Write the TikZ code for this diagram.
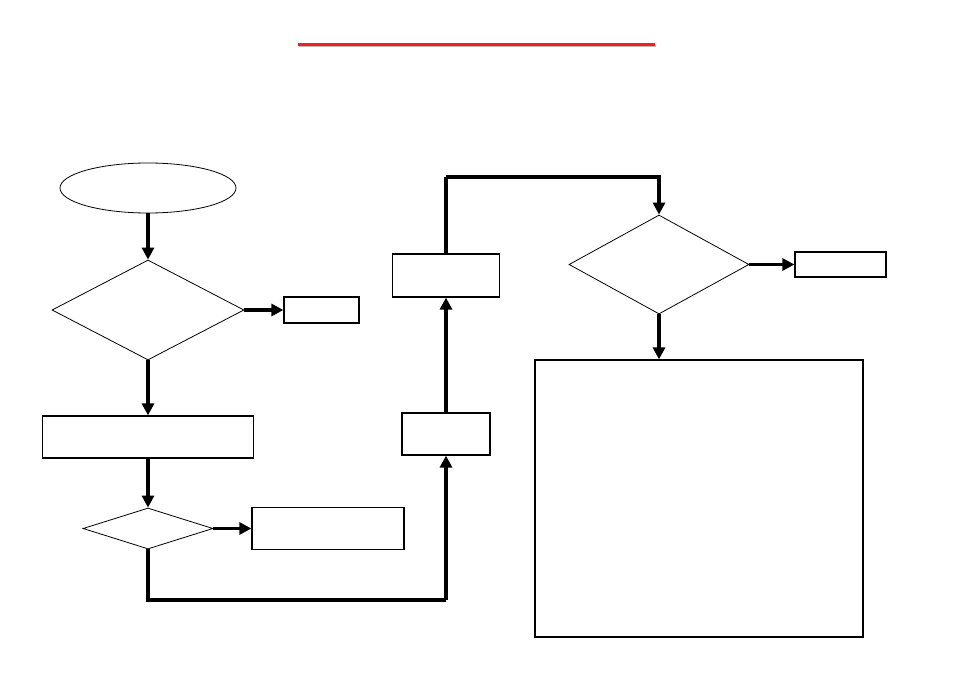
\documentclass[tikz,border=0pt]{standalone}
\usepackage{tikz}
\usetikzlibrary{arrows.meta,shapes.geometric}
\definecolor{titlered}{HTML}{F21E23}

\begin{document}
\begin{tikzpicture}[x=1pt,y=-1pt]
        \tikzstyle{box}=[draw,line width=1.2pt,inner sep=0pt]
        \tikzstyle{dia}=[draw,diamond,line width=0.8pt,inner sep=0pt]
        \tikzstyle{oval}=[draw,ellipse,line width=0.8pt,inner sep=0pt]
        \tikzstyle{arr}=[line width=3.6pt,-{Triangle[length=12pt,width=12pt]}]
        \tikzstyle{wire}=[line width=3.6pt]
        \useasboundingbox (0,0) rectangle (954,674);
        % title rule with its shadow
        \draw[gray!55,line width=2pt] (299,46) -- (656,46);
        \draw[titlered,line width=2.5pt] (298,44.5) -- (655,44.5);
        % left column
        \node[oval,minimum width=176pt,minimum height=50pt] (start) at (148,188) {};
        \node[dia,minimum width=192pt,minimum height=100pt] (q1) at (148,310) {};
        \node[box,minimum width=75pt,minimum height=26pt] (r1) at (321.5,310) {};
        \node[box,minimum width=211pt,minimum height=42pt] (s1) at (148,437) {};
        \node[dia,minimum width=130pt,minimum height=41pt] (q2) at (148,528.5) {};
        \node[box,minimum width=152pt,minimum height=42pt] (r2) at (328,528.5) {};
        % middle column
        \node[box,minimum width=88pt,minimum height=42pt] (s2) at (446,434) {};
        \node[box,minimum width=107pt,minimum height=43pt] (s3) at (446,275.5) {};
        % right column
        \node[dia,minimum width=180pt,minimum height=99pt] (q3) at (659,264.5) {};
        \node[box,minimum width=91pt,minimum height=25pt] (r3) at (840.5,264.5) {};
        \node[box,minimum width=328pt,minimum height=277pt] (s4) at (699,498.5) {};
        % connectors
        \coordinate (lo) at (446,600);
        \coordinate (hi) at (446,177);
        \draw[arr] (start.south) -- (q1.north);
        \draw[arr] (q1.east) -- (r1.west);
        \draw[arr] (q1.south) -- (s1.north);
        \draw[arr] (s1.south) -- (q2.north);
        \draw[arr] (q2.east) -- (r2.west);
        \draw[wire] (q2.south) |- (lo);
        \draw[arr] (lo) -- (s2.south);
        \draw[arr] (s2.north) -- (s3.south);
        \draw[wire] (s3.north) -- (hi);
        \draw[arr] (hi) -| (q3.north);
        \draw[arr] (q3.east) -- (r3.west);
        \draw[arr] (q3.south) -- (q3.south |- s4.north);
      \end{tikzpicture}
\end{document}
